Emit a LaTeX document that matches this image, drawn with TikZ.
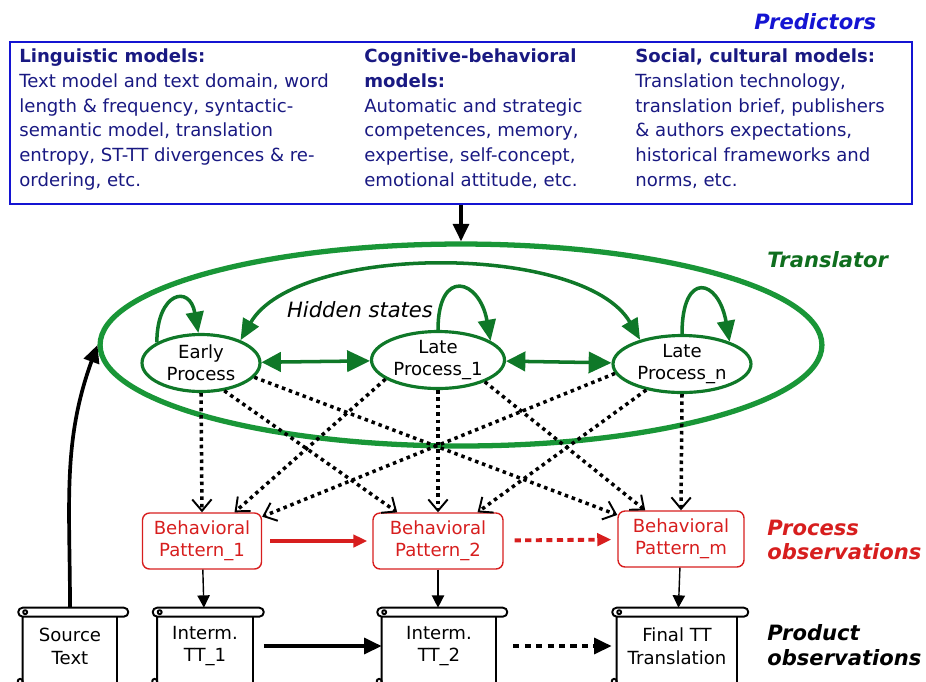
\documentclass[tikz,border=0pt]{standalone}
\usepackage{fontspec}
\setmainfont{DejaVu Sans}[ItalicFont={DejaVu Sans Oblique},BoldItalicFont={DejaVu Sans Bold Oblique}]
\usetikzlibrary{arrows.meta,shapes.geometric}
\definecolor{predblue}{RGB}{20,20,210}
\definecolor{predtext}{RGB}{25,25,130}
\definecolor{stategreen}{RGB}{15,120,40}
\definecolor{transgreen}{RGB}{25,150,55}
\definecolor{labgreen}{RGB}{15,110,30}
\definecolor{patred}{RGB}{215,30,30}
\tikzset{
  coltext/.style={anchor=north west,align=left,inner sep=0pt,text=predtext,font=\fontsize{10.3}{14.2}\selectfont},
  titlelab/.style={anchor=west,align=left,inner sep=0pt,font=\fontsize{12}{14}\selectfont\bfseries\itshape},
  state/.style={ellipse,draw=stategreen,line width=1.8pt,inner sep=0pt,align=center,minimum height=1.14cm,font=\fontsize{10.3}{12.5}\selectfont},
  pattern/.style={draw=patred,rounded corners=4pt,line width=0.8pt,text=patred,align=center,minimum height=1.12cm,font=\fontsize{10.3}{12.5}\selectfont},
  scroll/.style={align=center,inner sep=0pt,minimum height=1.52cm,font=\fontsize{10.3}{13}\selectfont},
  docline/.style={line width=1.1pt,line join=round},
  greenline/.style={draw=stategreen,line width=2pt},
  loophead/.style={-{Triangle[length=12pt,width=10pt]}},
  dotarrow/.style={line width=2pt,dash pattern=on 2pt off 2.2pt,-{Straight Barb[length=6.5pt,width=11pt,line width=1.1pt]}},
  redarrow/.style={draw=patred,line width=2.2pt,-{Triangle[length=8pt,width=7pt]}},
  thinarrow/.style={line width=0.8pt,-{Triangle[length=7pt,width=7pt]}},
  fatarrow/.style={line width=2.1pt,-{Triangle[length=10pt,width=9pt]}}
}
\begin{document}
\begin{tikzpicture}[x=0.02cm,y=0.02cm]
\clip (0,0) rectangle (926,-681);
% predictors
\node[titlelab,text=predblue] (predlab) at (754,-22) {Predictors};
\node[draw=predblue,line width=1pt,minimum width=18.04cm,minimum height=3.24cm] (pred) at (461,-123) {};
\node[coltext] (ling) at (19,-48) {\textbf{Linguistic models:}\\Text model and text domain, word\\length \& frequency, syntactic-\\semantic model, translation\\entropy, ST-TT divergences \& re-\\ordering, etc.};
\node[coltext] (cogn) at (364,-48) {\textbf{Cognitive-behavioral}\\\textbf{models:}\\Automatic and strategic\\competences, memory,\\expertise, self-concept,\\emotional attitude, etc.};
\node[coltext] (soc) at (635,-48) {\textbf{Social, cultural models:}\\Translation technology,\\translation brief, publishers\\\& authors expectations,\\historical frameworks and\\norms, etc.};

% translator and hidden states
\node[titlelab,text=labgreen] (translab) at (767,-260) {Translator};
\node[ellipse,draw=transgreen,line width=3pt,minimum width=14.44cm,minimum height=4.04cm] (tr) at (461,-345) {};
\node[font=\fontsize{12}{14}\selectfont\itshape] (hid) at (360,-310) {Hidden states};
\node[state,minimum width=2.36cm] (early) at (201,-363) {Early\\Process};
\node[state,minimum width=2.66cm] (late1) at (438,-360) {Late\\Process\_1};
\node[state,minimum width=2.76cm] (laten) at (682,-364) {Late\\Process\_n};

\draw[fatarrow] (pred) -- (tr);
\draw[greenline,{Triangle[length=11pt,width=11pt]}-{Triangle[length=13pt,width=12pt]}] (early) -- (late1);
\draw[greenline,{Triangle[length=11pt,width=11pt]}-{Triangle[length=13pt,width=12pt]}] (late1) -- (laten);
\draw[greenline,{Triangle[length=12pt,width=10pt]}-{Triangle[length=12pt,width=10pt]}] (early.30) to[out=60,in=120,looseness=0.72] (laten.150);
\draw[greenline,loophead] (early.155) to[out=90,in=100,looseness=3] (early.95);
\draw[greenline,loophead] (late1.90) to[out=90,in=100,looseness=3] (late1.20);
\draw[greenline,loophead] (laten.90) to[out=90,in=100,looseness=3.4] (laten.25);

% process observations
\node[titlelab,text=patred] (proclab) at (767,-540) {Process\\observations};
\node[pattern,minimum width=2.38cm] (p1) at (202,-541) {Behavioral\\Pattern\_1};
\node[pattern,minimum width=2.6cm] (p2) at (438,-541) {Behavioral\\Pattern\_2};
\node[pattern,minimum width=2.52cm] (pm) at (681,-539) {Behavioral\\Pattern\_m};

\draw[dotarrow] (early.south) -- (p1.north);
\draw[dotarrow] (early.-50) -- (p2);
\draw[dotarrow] (early.-15) -- (pm);
\draw[dotarrow] (late1.200) -- (p1);
\draw[dotarrow] (late1.south) -- (p2.north);
\draw[dotarrow] (late1.-25) -- (pm);
\draw[dotarrow] (laten.188) -- (p1);
\draw[dotarrow] (laten) -- (p2);
\draw[dotarrow] (laten.south) -- (pm.north);

\draw[redarrow,shorten <=0.16cm,shorten >=0.1cm] (p1) -- (p2);
\draw[redarrow,dash pattern=on 3.5pt off 2.5pt,shorten <=0.22cm,shorten >=0.12cm] (p2) -- (pm);

% product observations
\node[titlelab] (prodlab) at (767,-645) {Product\\observations};
\node[scroll,minimum width=1.88cm] (src) at (70,-646) {Source\\Text};
\node[scroll,minimum width=1.9cm] (tt1) at (205,-646) {Interm.\\TT\_1};
\node[scroll,minimum width=2.28cm] (tt2) at (439,-646) {Interm.\\TT\_2};
\node[scroll,minimum width=2.4cm] (final) at (677,-646) {Final TT\\Translation};
\foreach \n in {src,tt1,tt2,final}{
  \draw[docline] (\n.south west) -- ([yshift=-0.18cm]\n.north west)
    -- ([xshift=0.13cm,yshift=-0.18cm]\n.north east)
    arc[start angle=-90,end angle=90,radius=0.09cm]
    -- (\n.north west) arc[start angle=90,end angle=270,radius=0.09cm];
  \draw[docline] ([yshift=-0.18cm]\n.north east) -- (\n.south east);
  \draw[docline] ([xshift=0.05cm,yshift=-0.09cm]\n.north west) circle[radius=0.04cm];
  \draw[docline] ([xshift=-0.05cm,yshift=0.06cm]\n.south west) circle[radius=0.05cm];
}

\draw[thinarrow] (p1) -- (tt1);
\draw[thinarrow] (p2.south) -- (p2.south |- tt2.north);
\draw[thinarrow] (pm) -- (final);
\draw[fatarrow,shorten <=0.22cm] (tt1) -- (tt2);
\draw[fatarrow,dash pattern=on 3.5pt off 3pt,shorten <=0.34cm,shorten >=0.1cm] (tt2) -- (final);
\draw[fatarrow] (src.north) to[out=90,in=250] (tr.west);
\end{tikzpicture}
\end{document}
